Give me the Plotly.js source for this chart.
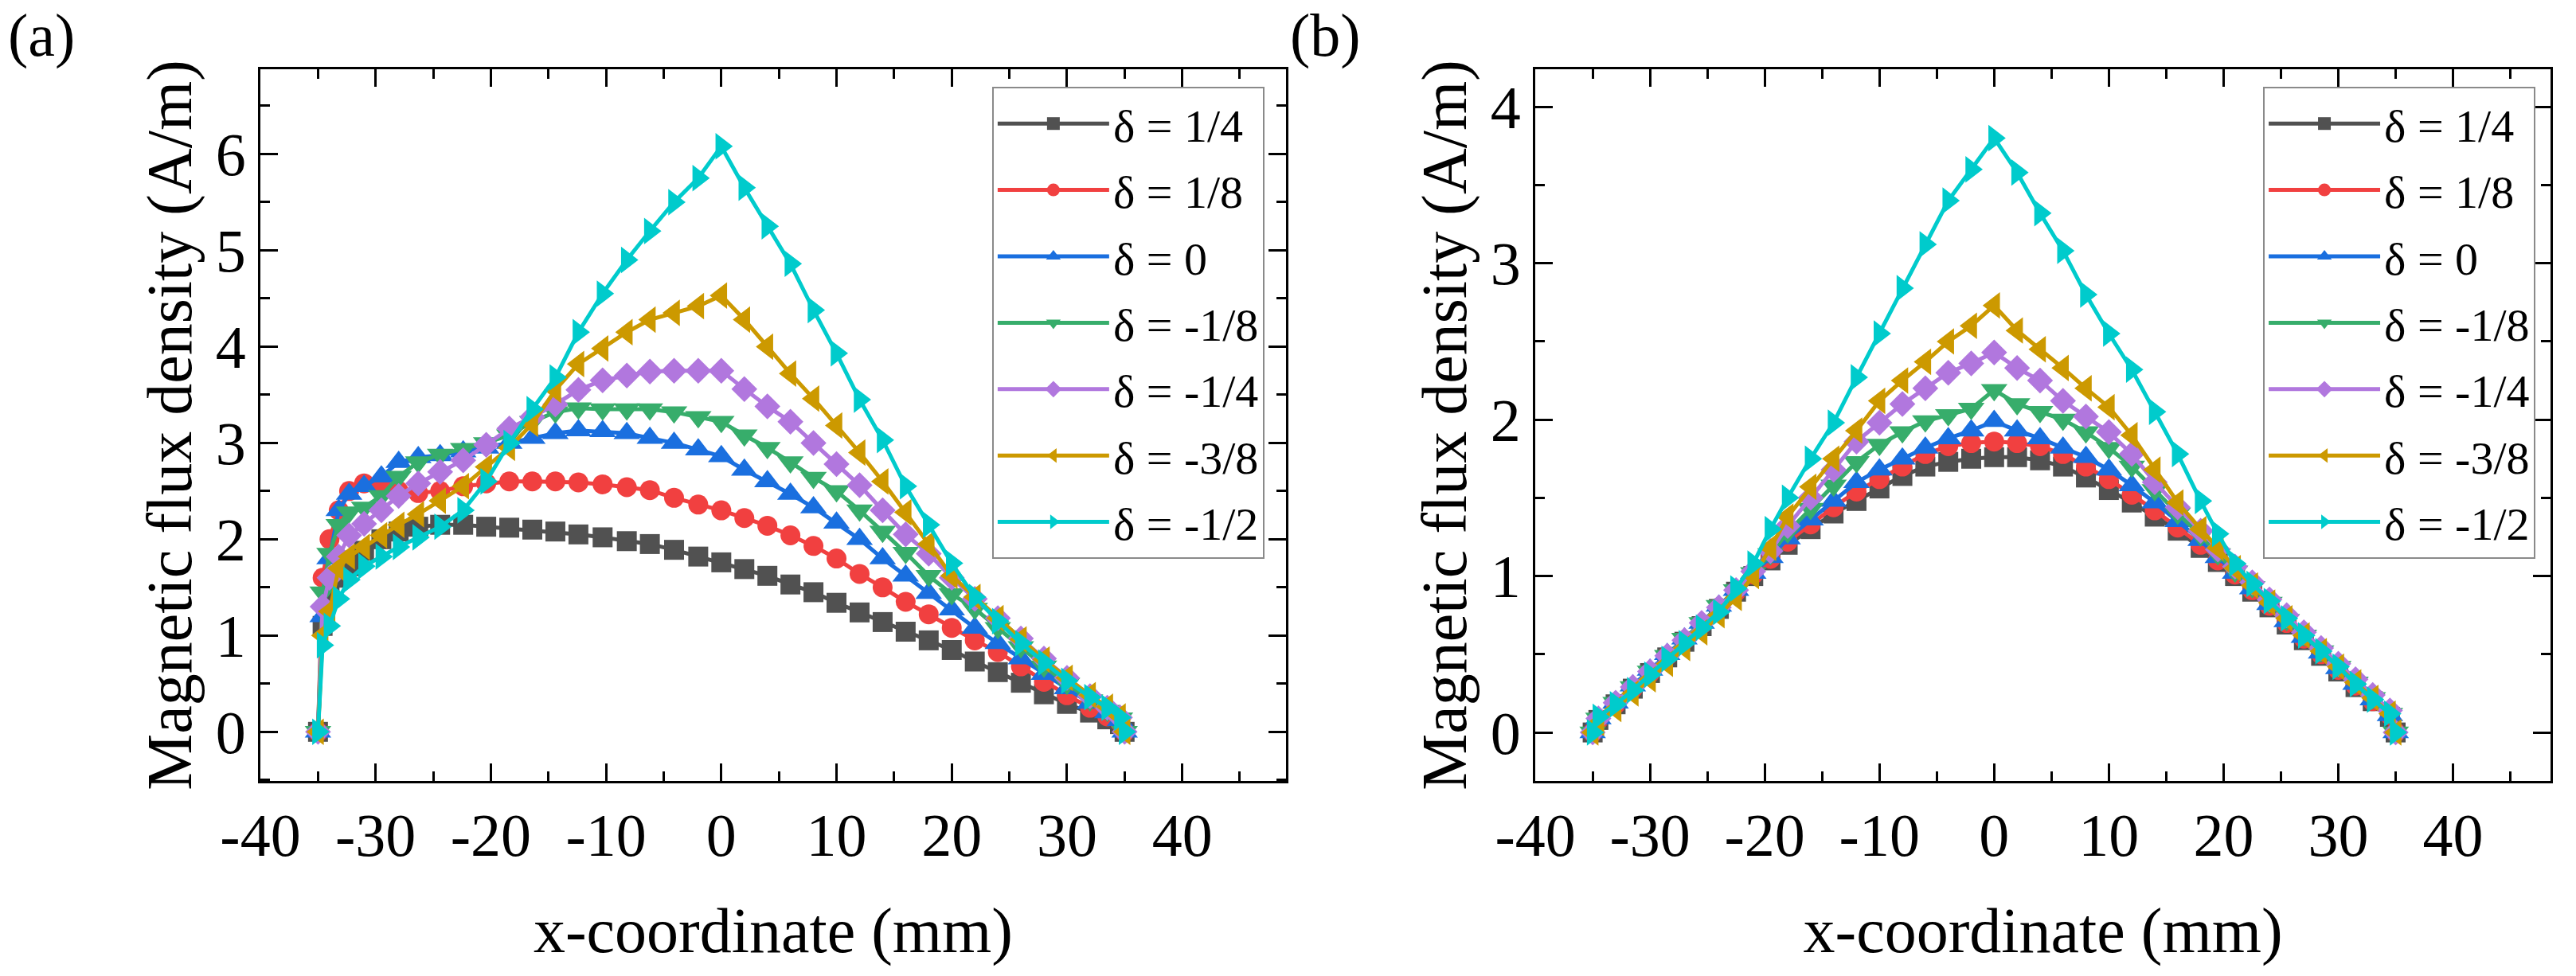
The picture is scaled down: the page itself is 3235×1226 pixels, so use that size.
<!DOCTYPE html>
<html>
<head>
<meta charset="utf-8">
<script src="https://cdn.plot.ly/plotly-3.0.1.min.js"></script>
<style>
  html, body { margin: 0; padding: 0; background: #fff; }
  #chart { width: 3235px; height: 1226px; }
</style>
</head>
<body>
<div id="chart"></div>
<script>
// series labels, colours and symbols (Origin style)
const seriesNames = ["δ = 1/4", "δ = 1/8", "δ = 0", "δ = -1/8", "δ = -1/4", "δ = -3/8", "δ = -1/2"];
const seriesColors = ["#515151", "#F14040", "#1A6FDF", "#37AD6B", "#B177DE", "#CC9900", "#00CBCC"];
const seriesSymbols = ["square", "circle", "triangle-up", "triangle-down", "diamond", "triangle-left", "triangle-right"];
const markerSizes = [25, 25, 29, 29, 25, 29, 29];

// panel (a): x positions (mm)
const xA = [-35, -34.6, -34, -33.2, -32.3, -31, -29.5, -28, -26.3, -24.4, -22.4, -20.4, -18.4, -16.4, -14.4, -12.4, -10.3, -8.2, -6.2, -4.1, -2, 0,
  2, 4, 6, 8, 10, 12, 14, 16, 18, 20, 22, 24, 26, 28, 30, 32, 33.5, 34.6, 35];

// panel (a): magnetic flux density (A/m)
const a_quarter = [0, 1.1, 1.4, 1.6, 1.72, 1.88, 2.0, 2.08, 2.13, 2.15, 2.15, 2.13, 2.12, 2.1, 2.08, 2.05, 2.02, 1.98, 1.95, 1.89, 1.82, 1.76,
  1.69, 1.62, 1.53, 1.45, 1.34, 1.24, 1.14, 1.04, 0.95, 0.85, 0.73, 0.62, 0.51, 0.39, 0.29, 0.2, 0.13, 0.08, 0];
const a_eighth = [0, 1.6, 2.0, 2.3, 2.5, 2.58, 2.55, 2.5, 2.48, 2.5, 2.55, 2.58, 2.6, 2.6, 2.6, 2.59, 2.57, 2.54, 2.51, 2.43, 2.36, 2.3,
  2.22, 2.14, 2.04, 1.93, 1.8, 1.64, 1.5, 1.35, 1.22, 1.08, 0.95, 0.83, 0.68, 0.52, 0.38, 0.25, 0.16, 0.1, 0];
const a_zero = [0, 1.2, 1.8, 2.3, 2.47, 2.55, 2.65, 2.8, 2.85, 2.87, 2.91, 2.95, 3.0, 3.05, 3.1, 3.13, 3.12, 3.1, 3.05, 3.0, 2.93, 2.86,
  2.72, 2.6, 2.47, 2.33, 2.17, 2.0, 1.8, 1.62, 1.44, 1.27, 1.08, 0.92, 0.76, 0.6, 0.45, 0.3, 0.2, 0.12, 0];
const a_mEighth = [0, 1.45, 1.85, 2.15, 2.28, 2.33, 2.45, 2.65, 2.8, 2.88, 2.94, 3.0, 3.08, 3.22, 3.32, 3.36, 3.35, 3.35, 3.35, 3.32, 3.27, 3.22,
  3.08, 2.95, 2.8, 2.64, 2.5, 2.3, 2.08, 1.86, 1.62, 1.43, 1.28, 1.08, 0.88, 0.68, 0.5, 0.33, 0.22, 0.14, 0];
const a_mQuarter = [0, 1.3, 1.6, 1.82, 2.04, 2.16, 2.3, 2.45, 2.58, 2.7, 2.82, 2.98, 3.15, 3.27, 3.4, 3.55, 3.65, 3.7, 3.74, 3.75, 3.75, 3.75,
  3.56, 3.38, 3.22, 3.0, 2.78, 2.56, 2.3, 2.05, 1.85, 1.6, 1.38, 1.18, 0.97, 0.76, 0.56, 0.37, 0.25, 0.15, 0];
const a_m3Eighth = [0, 1.0, 1.25, 1.7, 1.82, 1.92, 2.04, 2.15, 2.26, 2.4, 2.55, 2.75, 2.95, 3.2, 3.55, 3.82, 3.98, 4.15, 4.28, 4.35, 4.42, 4.53,
  4.28, 4.0, 3.72, 3.46, 3.18, 2.9, 2.6, 2.28, 1.95, 1.62, 1.4, 1.18, 0.96, 0.75, 0.56, 0.38, 0.26, 0.16, 0];
const a_mHalf = [0, 0.9, 1.1, 1.38, 1.58, 1.72, 1.82, 1.92, 2.02, 2.13, 2.3, 2.6, 3.0, 3.35, 3.68, 4.15, 4.55, 4.9, 5.2, 5.5, 5.75, 6.08,
  5.65, 5.25, 4.86, 4.38, 3.93, 3.45, 3.03, 2.55, 2.15, 1.75, 1.4, 1.15, 0.92, 0.72, 0.53, 0.36, 0.25, 0.15, 0];

// panel (b): x positions (mm)
const xB = [-35, -34.5, -33, -31.5, -30, -28.5, -27, -25.5, -24, -22.5, -21, -19.5, -18, -16, -14, -12, -10, -8, -6, -4, -2, 0,
  2, 4, 6, 8, 10, 12, 14, 16, 18, 19.5, 21, 22.5, 24, 25.5, 27, 28.5, 30, 31.5, 33, 34.5, 35];

// panel (b): magnetic flux density (A/m)
const b_quarter = [0, 0.08, 0.18, 0.28, 0.38, 0.48, 0.58, 0.68, 0.79, 0.9, 1.0, 1.1, 1.2, 1.3, 1.4, 1.48, 1.56, 1.64, 1.7, 1.73, 1.75, 1.76,
  1.76, 1.74, 1.7, 1.63, 1.55, 1.47, 1.38, 1.29, 1.18, 1.09, 1.0, 0.9, 0.8, 0.69, 0.59, 0.49, 0.39, 0.29, 0.2, 0.1, 0];
const b_eighth = [0, 0.08, 0.18, 0.28, 0.38, 0.49, 0.59, 0.69, 0.8, 0.9, 1.01, 1.11, 1.22, 1.33, 1.44, 1.54, 1.62, 1.7, 1.78, 1.83, 1.85, 1.86,
  1.85, 1.83, 1.78, 1.7, 1.62, 1.52, 1.42, 1.31, 1.2, 1.1, 1.01, 0.91, 0.81, 0.7, 0.6, 0.5, 0.4, 0.3, 0.2, 0.11, 0];
const b_zero = [0, 0.09, 0.19, 0.3, 0.4, 0.5, 0.6, 0.7, 0.81, 0.91, 1.02, 1.12, 1.24, 1.36, 1.48, 1.6, 1.68, 1.75, 1.82, 1.88, 1.93, 1.99,
  1.93, 1.88, 1.82, 1.76, 1.68, 1.58, 1.47, 1.35, 1.23, 1.12, 1.02, 0.92, 0.82, 0.71, 0.61, 0.51, 0.41, 0.31, 0.21, 0.11, 0];
const b_mEighth = [0, 0.09, 0.19, 0.29, 0.39, 0.49, 0.6, 0.7, 0.81, 0.91, 1.02, 1.14, 1.28, 1.43, 1.58, 1.73, 1.84, 1.92, 1.99, 2.03, 2.07, 2.19,
  2.1, 2.05, 2.0, 1.92, 1.82, 1.7, 1.55, 1.4, 1.26, 1.14, 1.03, 0.93, 0.83, 0.72, 0.62, 0.52, 0.42, 0.32, 0.22, 0.12, 0];
const b_mQuarter = [0, 0.09, 0.19, 0.29, 0.39, 0.49, 0.59, 0.7, 0.8, 0.91, 1.03, 1.16, 1.32, 1.5, 1.68, 1.86, 1.98, 2.1, 2.2, 2.3, 2.36, 2.43,
  2.33, 2.25, 2.12, 2.02, 1.92, 1.78, 1.6, 1.44, 1.29, 1.17, 1.06, 0.96, 0.85, 0.75, 0.64, 0.54, 0.44, 0.34, 0.24, 0.14, 0];
const b_m3Eighth = [0, 0.06, 0.15, 0.25, 0.34, 0.44, 0.54, 0.64, 0.75, 0.86, 1.0, 1.18, 1.38, 1.57, 1.75, 1.93, 2.12, 2.25, 2.37, 2.5, 2.6, 2.73,
  2.57, 2.45, 2.33, 2.2, 2.08, 1.9, 1.68, 1.47, 1.3, 1.18, 1.05, 0.94, 0.83, 0.73, 0.62, 0.52, 0.42, 0.32, 0.22, 0.12, 0];
const b_mHalf = [0, 0.1, 0.18, 0.27, 0.37, 0.47, 0.57, 0.67, 0.77, 0.92, 1.08, 1.3, 1.5, 1.75, 1.98, 2.27, 2.55, 2.84, 3.12, 3.4, 3.6, 3.8,
  3.58, 3.32, 3.08, 2.8, 2.55, 2.32, 2.05, 1.78, 1.48, 1.27, 1.08, 0.95, 0.84, 0.73, 0.62, 0.52, 0.42, 0.31, 0.21, 0.12, 0];

const panelA = [a_quarter, a_eighth, a_zero, a_mEighth, a_mQuarter, a_m3Eighth, a_mHalf];
const panelB = [b_quarter, b_eighth, b_zero, b_mEighth, b_mQuarter, b_m3Eighth, b_mHalf];

const FONT = "Liberation Serif, Times New Roman, serif";

function makeTrace(x, y, i, xa, ya, legendId) {
  return {
    x: x,
    y: y,
    xaxis: xa,
    yaxis: ya,
    type: "scatter",
    mode: "lines+markers",
    name: seriesNames[i],
    legend: legendId,
    legendgroup: legendId + i,
    line: { color: seriesColors[i], width: 5 },
    marker: { symbol: seriesSymbols[i], color: seriesColors[i], size: markerSizes[i] },
  };
}

const traces = [];
panelA.forEach((y, i) => traces.push(makeTrace(xA, y, i, "x", "y", "legend")));
panelB.forEach((y, i) => traces.push(makeTrace(xB, y, i, "x2", "y2", "legend2")));

const tickFont = { family: FONT, size: 76, color: "#000" };
const titleFont = { family: FONT, size: 80, color: "#000" };

const baseAxis = {
  showline: true,
  linecolor: "#000",
  linewidth: 3,
  mirror: "allticks",
  ticks: "inside",
  ticklen: 22,
  tickwidth: 3,
  tickcolor: "#000",
  showgrid: false,
  zeroline: false,
  tickfont: tickFont,
  ticklabelstandoff: 0,
};

function xAxis(domain, range, anchor) {
  return {
    ...baseAxis,
    domain: domain,
    anchor: anchor,
    range: range,
    tickmode: "array",
    tickvals: [-40, -30, -20, -10, 0, 10, 20, 30, 40],
    ticktext: ["-40", "-30", "-20", "-10", "0", "10", "20", "30", "40"],
    minor: { ticks: "inside", ticklen: 12, tickwidth: 3, tickcolor: "#000", dtick: 5, tick0: -35, showgrid: false },
    title: { text: "x-coordinate (mm)", font: titleFont, standoff: 50 },
  };
}

function yAxis(range, maxTick, anchor) {
  const vals = [];
  for (let v = 0; v <= maxTick; v++) vals.push(v);
  return {
    ...baseAxis,
    anchor: anchor,
    range: range,
    tickmode: "array",
    tickvals: vals,
    ticktext: vals.map(String),
    minor: { ticks: "inside", ticklen: 12, tickwidth: 3, tickcolor: "#000", dtick: 0.5, tick0: 0, showgrid: false },
    title: { text: "Magnetic flux density (A/m)", font: titleFont, standoff: 4 },
  };
}

const legendBase = {
  font: { family: FONT, size: 58, color: "#000" },
  bgcolor: "#fff",
  bordercolor: "#8a8a8a",
  borderwidth: 2,
  itemwidth: 140,
  tracegroupgap: 5,
  traceorder: "grouped",
  xanchor: "left",
  yanchor: "top",
  y: 0.9754,
};

const layout = {
  width: 3235,
  height: 1226,
  margin: { l: 327, r: 32, t: 87, b: 245 },
  paper_bgcolor: "#fff",
  plot_bgcolor: "#fff",
  showlegend: true,
  xaxis: xAxis([0, 0.4478], [-40, 49], "y"),
  yaxis: yAxis([-0.51, 6.88], 6, "x"),
  xaxis2: xAxis([0.5567, 1], [-40, 48.5], "y2"),
  yaxis2: yAxis([-0.31, 4.24], 4, "x2"),
  legend: { ...legendBase, x: 0.3195 },
  legend2: { ...legendBase, x: 0.8745 },
  annotations: [
    { text: "(a)", xref: "paper", yref: "paper", x: -0.0955, y: 1.047, xanchor: "center", yanchor: "middle",
      showarrow: false, font: { family: FONT, size: 76, color: "#000" } },
    { text: "(b)", xref: "paper", yref: "paper", x: 0.4652, y: 1.047, xanchor: "center", yanchor: "middle",
      showarrow: false, font: { family: FONT, size: 76, color: "#000" } },
  ],
};

Plotly.newPlot("chart", traces, layout, { displayModeBar: false, staticPlot: true });
</script>
</body>
</html>
